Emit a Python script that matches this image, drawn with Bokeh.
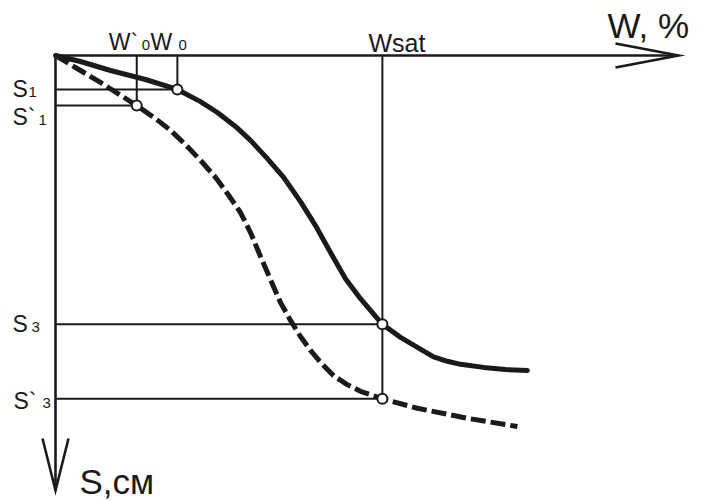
from bokeh.plotting import figure
from bokeh.models import Range1d
from bokeh.core.properties import value
from bokeh.embed import file_html
from bokeh.resources import INLINE

# Characteristic values on the W (moisture) and S (settlement) axes
w0_prime = 13.0
w0 = 19.5
w_sat = 52.3
s1 = 7.8
s1_prime = 11.5
s3 = 61.8
s3_prime = 78.9

# Solid curve: settlement vs moisture
w_solid = [0, 4.0, 8.8, 14.4, 19.5, 23.2, 25.9, 28.8, 31.2, 33.9, 36.5, 39.2,
           41.6, 44.0, 46.4, 48.8, 52.3, 55.2, 57.9, 60.5, 62.7, 64.8, 68.5,
           72.0, 75.5]
s_solid = [0, 1.38, 3.45, 5.52, 7.8, 10.6, 13.1, 16.3, 19.5, 23.7, 28.0, 33.6,
           39.1, 45.3, 51.3, 55.9, 61.8, 64.8, 67.1, 69.3, 70.3, 71.0, 71.7,
           72.2, 72.4]

# Dashed curve: settlement vs moisture (second case)
w_dash = [0, 4.0, 7.2, 13.0, 16.0, 18.4, 20.8, 23.2, 25.6, 27.5, 29.6, 31.2,
          32.8, 34.4, 36.0, 37.6, 39.2, 40.8, 42.7, 44.5, 46.6, 48.8, 52.3,
          57.9, 65.9, 73.9]
s_dash = [0, 3.45, 6.2, 11.5, 14.5, 17.2, 20.5, 24.1, 28.0, 31.7, 36.1, 40.7,
          46.2, 51.5, 56.8, 60.9, 64.6, 67.8, 71.0, 73.6, 75.6, 77.2, 78.9,
          81.1, 83.4, 85.3]

W, H = 702, 501
KX, KY = 6.25, 4.35          # pixels per data unit
OX, OY = 55, 55              # origin in pixels


def dx(px):
    return px / KX


def dy(px):
    return px / KY


p = figure(width=W, height=H, output_backend="svg", toolbar_location=None,
           x_range=Range1d(-dx(OX), dx(W - OX)),
           y_range=Range1d(dy(H - OY), -dy(OY)),
           min_border=0, background_fill_color="white",
           border_fill_color="white")
p.axis.visible = False
p.grid.visible = False
p.outline_line_color = None

ink = "#1a1a1a"

# Guide lines to the marked points
p.segment(x0=[0, 0, 0, 0, w0, w0_prime, w_sat],
          y0=[s1, s1_prime, s3, s3_prime, 0, 0, 0],
          x1=[w0, w0_prime, w_sat, w_sat, w0, w0_prime, w_sat],
          y1=[s1, s1_prime, s3, s3_prime, s1, s1_prime, s3_prime],
          line_color=ink, line_width=2)

# Axes with open arrow heads
w_tip = dx(678 - OX)
s_tip = dy(490 - OY)
p.segment(x0=[0, 0], y0=[0, 0], x1=[w_tip, 0], y1=[0, s_tip],
          line_color=ink, line_width=2.6)
p.multi_line(
    xs=[[w_tip - dx(63), w_tip, w_tip - dx(63)],
        [-dx(13), 0, dx(13)]],
    ys=[[-dy(12), 0, dy(12)],
        [s_tip - dy(52), s_tip, s_tip - dy(52)]],
    line_color=ink, line_width=2.6, line_join="miter")

# Curves
p.line(w_solid, s_solid, line_color=ink, line_width=5, line_join="round",
       line_cap="round")
p.line(w_dash, s_dash, line_color=ink, line_width=5, line_dash="15 5",
       line_join="round")

# Marked points
p.scatter([w0, w0_prime, w_sat, w_sat], [s1, s1_prime, s3, s3_prime],
          size=10, marker="circle", fill_color="white", line_color=ink,
          line_width=2)

font = value("Liberation Sans")


def label(x, y_base, txt, size):
    # y_base is the wanted baseline; the svg text sits about 0.35 em low
    p.text(x=[x], y=[y_base - dy(0.35 * size)], text=[txt], text_font=font,
           text_font_size=f"{size}px", text_color=ink,
           text_baseline="alphabetic", text_align="left")


# S labels (main letter + small index)
label(dx(12 - OX), s1 + dy(8), "S", 23)
label(dx(28 - OX), s1 + dy(8), "1", 15)
label(dx(12 - OX), s1_prime + dy(20), "S`", 23)
label(dx(38 - OX), s1_prime + dy(20), "1", 15)
label(dx(12 - OX), s3 + dy(8), "S", 23)
label(dx(31 - OX), s3 + dy(8), "3", 15)
label(dx(13 - OX), s3_prime + dy(10), "S`", 23)
label(dx(42 - OX), s3_prime + dy(10), "3", 15)

# W labels
label(w0_prime - dx(28), -dy(5), "W`", 23)
label(w0_prime + dx(5), -dy(5), "0", 15)
label(w0 - dx(27), -dy(5), "W", 23)
label(w0 + dx(1), -dy(5), "0", 15)
label(w_sat - dx(14), -dy(4), "Wsat", 25)

# Axis titles
label(dx(607 - OX), -dy(OY - 37), "W, %", 35)
label(dx(79 - OX), dy(493 - OY), "S,см", 35)

open("out.html", "w").write(file_html(p, INLINE))
